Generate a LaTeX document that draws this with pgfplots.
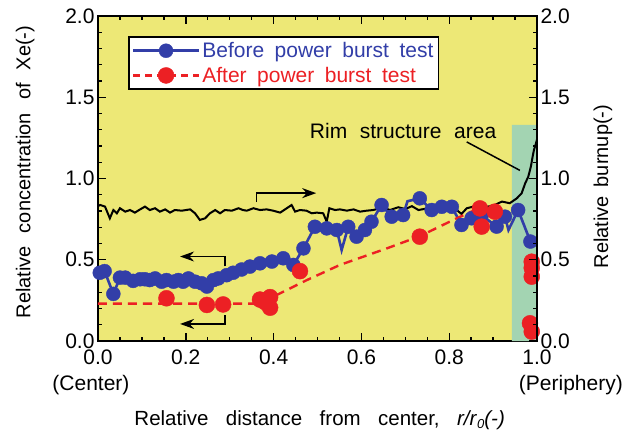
\documentclass[border=0pt]{standalone}
\usepackage{fontspec}
\setmainfont{Liberation Sans}
\usepackage{pgfplots}
\pgfplotsset{compat=1.18}
\usetikzlibrary{arrows.meta}

\definecolor{bgyellow}{RGB}{237,232,118}
\definecolor{rimgreen}{RGB}{163,212,178}
\definecolor{bblue}{RGB}{50,62,168}
\definecolor{rred}{RGB}{236,32,36}

\newcommand\tickfont{\fontsize{21}{25}\selectfont}
\newcommand\labfont{\fontsize{20}{24}\selectfont}
\newcommand\legfont{\fontsize{21}{25}\selectfont}
\newcommand\wsp[1]{\spaceskip=#1\relax}

\pgfplotsset{
  base/.style={
    width=439pt, height=325pt, scale only axis,
    xmin=0, xmax=1, ymin=0, ymax=2,
    clip=false,
    tick align=inside,
    major tick length=8pt, minor tick length=4.5pt,
    tick style={black, line width=1.4pt},
    axis line style={line width=2.2pt},
    ytick={0,0.5,1,1.5,2},
    minor y tick num=4,
    tick label style={font=\tickfont},
    /pgf/number format/assume math mode=true,
    yticklabel style={/pgf/number format/.cd, fixed, fixed zerofill, precision=1},
    label style={font=\labfont},
  }
}

\begin{document}
\begin{tikzpicture}
\begin{axis}[base,
  axis background/.style={fill=bgyellow},
  xtick={0,0.2,0.4,0.6,0.8,1},
  minor x tick num=3,
  xticklabel style={yshift=-5pt, /pgf/number format/.cd, fixed, fixed zerofill, precision=1},
  ylabel={\wsp{0.65em}Relative concentration of Xe(-)},
  ylabel style={at={(axis description cs:-0.166,0.52)}, anchor=center},
  xlabel={\fontsize{20.5}{24}\selectfont\wsp{0.85em}Relative distance from center, \textit{r/r}{\fontsize{13}{15}\selectfont\raisebox{-3pt}{\textit{0}}}\textit{(-)}},
  xlabel style={at={(axis description cs:0.505,-0.243)}, anchor=center},
  legend style={at={(0.068,0.937)}, anchor=north west, draw=black, line width=1.8pt,
    fill=white, font=\legfont, cells={anchor=west}, row sep=4pt, inner xsep=3pt, inner ysep=3pt},
  legend image code/.code={\draw[mark repeat=2,mark phase=2,#1] plot coordinates {(5pt,0pt) (38pt,0pt) (71pt,0pt)};},
]
\addlegendimage{bblue, line width=2.6pt, mark=*, mark size=7pt, mark options={solid, line width=0.4pt}}
\addlegendentry{\wsp{0.5em}\textcolor{bblue}{Before power burst test}}
\addlegendimage{rred, line width=2.4pt, dash pattern=on 7pt off 5pt, mark=*, mark size=8pt, mark options={solid, line width=0.4pt}}
\addlegendentry{\wsp{0.5em}\textcolor{rred}{After power burst test}}

% rim structure area
\addplot[draw=none, fill=rimgreen, forget plot] coordinates {(0.943,0) (0.943,1.33) (1.0,1.33) (1.0,0)} \closedcycle;

% relative burnup (right axis, same scale)
\addplot[black, line width=2pt, forget plot] coordinates {
(0.000,0.830) (0.005,0.837) (0.016,0.827) (0.027,0.755) (0.035,0.806) (0.043,0.786)
(0.050,0.817) (0.062,0.796) (0.073,0.806) (0.084,0.790) (0.096,0.810) (0.107,0.827)
(0.118,0.806) (0.130,0.817) (0.141,0.796) (0.153,0.810) (0.164,0.790) (0.175,0.806)
(0.191,0.802) (0.210,0.810) (0.221,0.786) (0.232,0.745) (0.244,0.755) (0.255,0.786)
(0.267,0.806) (0.278,0.786) (0.289,0.806) (0.305,0.802) (0.320,0.817) (0.330,0.806)
(0.339,0.802) (0.354,0.817) (0.369,0.806) (0.384,0.810) (0.399,0.802) (0.415,0.790)
(0.430,0.817) (0.441,0.837) (0.449,0.796) (0.460,0.806) (0.475,0.802) (0.487,0.786)
(0.498,0.790) (0.513,0.786) (0.521,0.734) (0.527,0.817) (0.540,0.806) (0.551,0.810)
(0.567,0.802) (0.582,0.810) (0.597,0.796) (0.612,0.802) (0.627,0.806) (0.642,0.817)
(0.654,0.817) (0.665,0.806) (0.684,0.823) (0.700,0.812) (0.715,0.830) (0.730,0.806)
(0.752,0.817) (0.775,0.823) (0.798,0.827) (0.817,0.806) (0.828,0.782) (0.840,0.817)
(0.859,0.830) (0.882,0.823) (0.904,0.837) (0.920,0.858) (0.938,0.848) (0.954,0.878)
(0.965,0.909) (0.973,0.970) (0.980,1.010) (0.986,1.073) (0.990,1.134) (0.993,1.175)
(0.997,1.210) (1.000,1.240)
};

% before power burst test: line
\addplot[bblue, line width=2.6pt, forget plot] coordinates {
(0.000,0.42) (0.004,0.42) (0.015,0.43) (0.035,0.29) (0.050,0.39) (0.062,0.39)
(0.080,0.37) (0.096,0.38) (0.107,0.38) (0.118,0.375) (0.130,0.385) (0.145,0.365)
(0.156,0.375) (0.172,0.365) (0.183,0.375) (0.194,0.365) (0.206,0.385) (0.221,0.365)
(0.236,0.355) (0.248,0.335) (0.263,0.375) (0.274,0.385) (0.293,0.405) (0.308,0.42)
(0.327,0.44) (0.346,0.458) (0.369,0.478) (0.396,0.489) (0.422,0.509) (0.445,0.468)
(0.468,0.570) (0.494,0.703) (0.521,0.693) (0.544,0.683) (0.555,0.560) (0.570,0.703)
(0.589,0.642) (0.608,0.683) (0.623,0.734) (0.646,0.837) (0.669,0.765) (0.695,0.775)
(0.705,0.860) (0.733,0.878) (0.760,0.806) (0.783,0.826) (0.806,0.826) (0.828,0.714)
(0.851,0.755) (0.874,0.775) (0.908,0.704) (0.927,0.765) (0.935,0.683) (0.957,0.806)
(0.985,0.612)
};
% before power burst test: marks
\addplot[only marks, mark=*, mark size=7pt, bblue, mark options={line width=0.4pt}, forget plot] coordinates {
(0.004,0.42) (0.015,0.43) (0.035,0.29) (0.050,0.39) (0.062,0.39)
(0.080,0.37) (0.096,0.38) (0.107,0.38) (0.118,0.375) (0.130,0.385) (0.145,0.365)
(0.156,0.375) (0.172,0.365) (0.183,0.375) (0.194,0.365) (0.206,0.385) (0.221,0.365)
(0.236,0.355) (0.248,0.335) (0.263,0.375) (0.274,0.385) (0.293,0.405) (0.308,0.42)
(0.327,0.44) (0.346,0.458) (0.369,0.478) (0.396,0.489) (0.422,0.509) (0.445,0.468)
(0.468,0.570) (0.494,0.703) (0.521,0.693) (0.544,0.683) (0.570,0.703)
(0.589,0.642) (0.608,0.683) (0.623,0.734) (0.646,0.837) (0.669,0.765) (0.695,0.775)
(0.733,0.878) (0.760,0.806) (0.783,0.826) (0.806,0.826) (0.828,0.714)
(0.851,0.755) (0.874,0.775) (0.908,0.704) (0.927,0.765) (0.957,0.806)
(0.985,0.612)
};

% after power burst test: dashed trend
\addplot[rred, line width=2.4pt, dash pattern=on 9pt off 6pt, forget plot] coordinates {
(0.000,0.230) (0.370,0.230) (0.407,0.283) (0.475,0.374) (0.551,0.468)
(0.658,0.570) (0.733,0.645) (0.817,0.755) (0.870,0.820)
};
% after power burst test: marks
\addplot[only marks, mark=*, mark size=8pt, rred, mark options={line width=0.4pt}, forget plot] coordinates {
(0.156,0.263) (0.248,0.222) (0.285,0.225) (0.369,0.255) (0.380,0.240) (0.392,0.270)
(0.392,0.205) (0.460,0.430) (0.733,0.642) (0.870,0.816) (0.874,0.704) (0.904,0.796)
(0.988,0.488) (0.988,0.450) (0.988,0.396) (0.984,0.109) (0.988,0.058)
};

% annotations
\draw[line width=1.4pt, -{Stealth[length=14pt, width=10pt]}] (axis cs:0.361,0.855) -- (axis cs:0.361,0.91) -- (axis cs:0.497,0.91);
\draw[line width=1.4pt, -{Stealth[length=14pt, width=10pt]}] (axis cs:0.289,0.46) -- (axis cs:0.289,0.52) -- (axis cs:0.187,0.52);
\draw[line width=1.4pt, -{Stealth[length=14pt, width=10pt]}] (axis cs:0.289,0.16) -- (axis cs:0.289,0.105) -- (axis cs:0.187,0.105);
\draw[line width=1.5pt] (axis cs:0.84,1.225) -- (axis cs:0.961,1.05);
\node[font=\tickfont] at (axis cs:0.695,1.29) {\wsp{0.6em}Rim structure area};

\node[font=\tickfont] at (axis description cs:-0.016,-0.135) {(Center)};
\node[font=\tickfont, anchor=east, inner sep=0pt] at (axis description cs:1.196,-0.135) {(Periphery)};
\end{axis}

\begin{axis}[base,
  axis x line=none,
  axis y line*=right,
  ylabel={\wsp{0.45em}Relative burnup(-)},
  ylabel style={at={(axis description cs:1.15,0.475)}, anchor=center},
]
\end{axis}

\pgfresetboundingbox
\path[use as bounding box] (-98pt,-93pt) rectangle (528pt,341pt);
\end{tikzpicture}
\end{document}
